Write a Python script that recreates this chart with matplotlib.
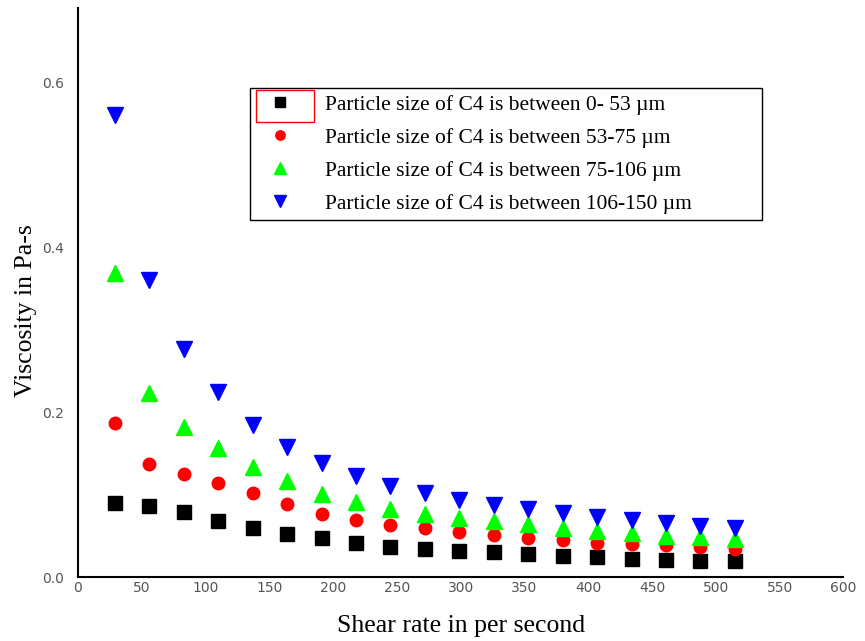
import numpy as np
import matplotlib.pyplot as plt
from matplotlib.patches import Rectangle

shear = [29, 56, 83, 110, 137, 164, 191, 218, 245, 272, 299, 326, 353,
         380, 407, 434, 461, 488, 515]

visc_0_53 = [0.090, 0.086, 0.079, 0.068, 0.059, 0.052, 0.047, 0.041, 0.036, 0.034,
             0.032, 0.030, 0.028, 0.025, 0.024, 0.022, 0.021, 0.019, 0.019]
visc_53_75 = [0.187, 0.137, 0.125, 0.114, 0.102, 0.088, 0.077, 0.069, 0.063, 0.059,
              0.054, 0.051, 0.047, 0.045, 0.041, 0.040, 0.039, 0.036, 0.034]
visc_75_106 = [0.369, 0.223, 0.182, 0.157, 0.133, 0.116, 0.101, 0.091, 0.082, 0.076,
               0.071, 0.068, 0.064, 0.059, 0.056, 0.053, 0.050, 0.048, 0.046]
visc_106_150 = [0.560, 0.360, 0.276, 0.224, 0.184, 0.158, 0.138, 0.122, 0.110, 0.102,
                0.093, 0.087, 0.082, 0.078, 0.073, 0.069, 0.065, 0.062, 0.059]

labels = ["Particle size of C4 is between 0- 53 \u00b5m",
          "Particle size of C4 is between 53-75 \u00b5m",
          "Particle size of C4 is between 75-106 \u00b5m",
          "Particle size of C4 is between 106-150 \u00b5m"]

fig = plt.figure(figsize=(8.65, 6.41), dpi=100)
ax = fig.add_axes([0.090, 0.0998, 0.885, 0.8877])

ax.plot(shear, visc_0_53, 's', color='black', ms=9.5, label=labels[0])
ax.plot(shear, visc_53_75, 'o', color='red', ms=9, label=labels[1])
ax.plot(shear, visc_75_106, '^', color='#00ff00', ms=11, label=labels[2])
ax.plot(shear, visc_106_150, 'v', color='blue', ms=11, label=labels[3])

ax.set_xlim(0, 600)
ax.set_ylim(0, 0.69)
ax.set_xticks(np.arange(0, 601, 50))
ax.set_yticks([0.0, 0.2, 0.4, 0.6])
ax.set_yticklabels(['0.0', '0.2', '0.4', '0.6'])
ax.tick_params(length=0, labelsize=10, labelcolor='#555555')
ax.tick_params(axis='y', pad=10)
ax.tick_params(axis='x', pad=3)
for s in ['top', 'right']:
    ax.spines[s].set_visible(False)
ax.spines['left'].set_linewidth(1.5)
ax.spines['bottom'].set_linewidth(1.5)

ax.set_xlabel('Shear rate in per second', family='Liberation Serif', fontsize=18.5, labelpad=14)
ax.set_ylabel('Viscosity in Pa-s', family='Liberation Serif', fontsize=18.5)
ax.yaxis.set_label_coords(-0.053, 0.469)

leg = ax.legend(loc='upper left', bbox_to_anchor=(0.2248, 0.859, 0.669, 0.0),
                mode='expand', borderaxespad=0, frameon=True,
                fancybox=False, edgecolor='black', framealpha=1, markerscale=0.75,
                prop={'family': 'Liberation Serif', 'size': 15.5},
                handlelength=2.2, handletextpad=1.0, borderpad=0.3, labelspacing=0.6)
leg.get_frame().set_linewidth(1.0)

fig.patches.append(Rectangle((0.296, 0.810), 0.067, 0.050, transform=fig.transFigure,
                             fill=False, edgecolor='red', lw=1))

fig.savefig('out.png', dpi=100)
